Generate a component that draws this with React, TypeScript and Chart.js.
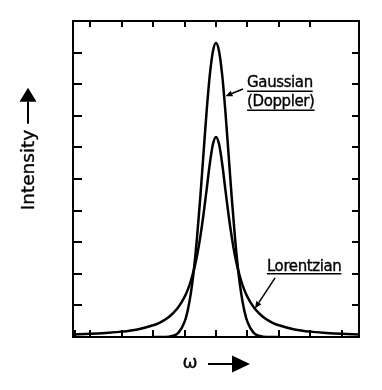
import React, { useEffect, useRef } from "react";
import { Chart, registerables } from "chart.js";

Chart.register(...registerables);

// ---- data ----
const X_MIN = -4.55;
const X_MAX = 4.55;
const Y_MIN = 0;
const Y_MAX = 10;

const gaussX = [-2.0, -1.6, -1.4, -1.2, -1.0, -0.9, -0.8, -0.7, -0.6, -0.5, -0.4, -0.3, -0.2, -0.1, 0, 0.1, 0.2, 0.3, 0.4, 0.5, 0.6, 0.7, 0.8, 0.9, 1.0, 1.2, 1.4, 1.6, 2.0];
const gaussY = [0, 0, 0.03, 0.13, 0.48, 0.84, 1.39, 2.16, 3.19, 4.42, 5.78, 7.12, 8.26, 9.03, 9.3, 9.03, 8.26, 7.12, 5.78, 4.42, 3.19, 2.16, 1.39, 0.84, 0.48, 0.13, 0.03, 0, 0];

const lorX = [-4.55, -4.0, -3.5, -3.0, -2.5, -2.0, -1.8, -1.6, -1.4, -1.2, -1.0, -0.9, -0.8, -0.7, -0.6, -0.5, -0.4, -0.3, -0.2, -0.1, 0, 0.1, 0.2, 0.3, 0.4, 0.5, 0.6, 0.7, 0.8, 0.9, 1.0, 1.2, 1.4, 1.6, 1.8, 2.0, 2.5, 3.0, 3.5, 4.0, 4.55];
const lorY = [0.08, 0.1, 0.13, 0.17, 0.24, 0.37, 0.45, 0.56, 0.72, 0.94, 1.27, 1.49, 1.78, 2.14, 2.59, 3.17, 3.86, 4.65, 5.46, 6.09, 6.33, 6.09, 5.46, 4.65, 3.86, 3.17, 2.59, 2.14, 1.78, 1.49, 1.27, 0.94, 0.72, 0.56, 0.45, 0.37, 0.24, 0.17, 0.13, 0.1, 0.08];

const leftTicks = [1, 2, 3, 4, 5, 6, 7, 8, 9];
const rightTicks = [1, 2, 3, 4, 5, 6, 7, 8, 9];
const topTicks = [-4, -3, -2, -1, 0, 1, 2, 3];
const bottomTicks = [-4.5, -4, -3, -2, -1, 0, 1, 2, 3, 4];

const gaussLabel = ["Gaussian", "(Doppler)"];
const lorLabel = "Lorentzian";
const yTitle = "Intensity";
const xTitle = "\u03c9";

// annotation anchors in data units
const gaussTextPos = { x: 0.99, y: [7.9, 7.3] };
const gaussLeader = { from: { x: 0.86, y: 7.85 }, to: { x: 0.3, y: 7.62 } };
const lorTextPos = { x: 1.62, y: 2.1 };
const lorLeader = { from: { x: 1.88, y: 1.87 }, to: { x: 1.24, y: 0.9 } };

function arrow(ctx: CanvasRenderingContext2D, x1: number, y1: number, x2: number, y2: number, headLen: number, headW: number, lw: number) {
  const ang = Math.atan2(y2 - y1, x2 - x1);
  const bx = x2 - headLen * Math.cos(ang);
  const by = y2 - headLen * Math.sin(ang);
  ctx.beginPath();
  ctx.lineWidth = lw;
  ctx.moveTo(x1, y1);
  ctx.lineTo(bx, by);
  ctx.stroke();
  const px = -Math.sin(ang) * headW / 2;
  const py = Math.cos(ang) * headW / 2;
  ctx.beginPath();
  ctx.moveTo(x2, y2);
  ctx.lineTo(bx + px, by + py);
  ctx.lineTo(bx - px, by - py);
  ctx.closePath();
  ctx.fill();
}

function boldText(ctx: CanvasRenderingContext2D, t: string, x: number, y: number) {
  ctx.fillText(t, x, y);
  ctx.lineWidth = 0.35;
  ctx.strokeText(t, x, y);
}

const decorPlugin = {
  id: "decor",
  afterDraw(chart: any) {
    const ctx: CanvasRenderingContext2D = chart.ctx;
    const { left, right, top, bottom } = chart.chartArea;
    const xs = chart.scales.x;
    const ys = chart.scales.y;
    ctx.save();
    ctx.strokeStyle = "#000";
    ctx.fillStyle = "#000";
    ctx.lineCap = "butt";

    // frame
    ctx.lineWidth = 2;
    ctx.strokeRect(left, top, right - left, bottom - top);

    // inward ticks
    ctx.lineWidth = 2;
    ctx.beginPath();
    leftTicks.forEach((v) => {
      const y = Math.round(ys.getPixelForValue(v));
      ctx.moveTo(left, y);
      ctx.lineTo(left + 9, y);
    });
    rightTicks.forEach((v) => {
      const y = Math.round(ys.getPixelForValue(v));
      ctx.moveTo(right, y);
      ctx.lineTo(right - 7, y);
    });
    topTicks.forEach((v) => {
      const x = Math.round(xs.getPixelForValue(v));
      ctx.moveTo(x, top);
      ctx.lineTo(x, top + 6);
    });
    bottomTicks.forEach((v) => {
      const x = Math.round(xs.getPixelForValue(v));
      ctx.moveTo(x, bottom);
      ctx.lineTo(x, bottom - 7);
    });
    ctx.stroke();

    // labels
    ctx.font = "15px 'DejaVu Sans'";
    (ctx as any).letterSpacing = "-0.4px";
    ctx.textAlign = "left";
    ctx.textBaseline = "alphabetic";
    gaussLabel.forEach((t, i) => {
      const x = xs.getPixelForValue(gaussTextPos.x);
      const y = ys.getPixelForValue(gaussTextPos.y[i]);
      boldText(ctx, t, x, y);
      const w = ctx.measureText(t).width;
      ctx.lineWidth = 1.5;
      ctx.beginPath();
      ctx.moveTo(x, y + 4);
      ctx.lineTo(x + w, y + 4);
      ctx.stroke();
    });
    {
      const x = xs.getPixelForValue(lorTextPos.x);
      const y = ys.getPixelForValue(lorTextPos.y);
      boldText(ctx, lorLabel, x, y);
      const w = ctx.measureText(lorLabel).width;
      ctx.lineWidth = 1.5;
      ctx.beginPath();
      ctx.moveTo(x, y + 3);
      ctx.lineTo(x + w, y + 3);
      ctx.stroke();
    }
    (ctx as any).letterSpacing = "0px";

    // leaders
    [gaussLeader, lorLeader].forEach((l) => {
      arrow(
        ctx,
        xs.getPixelForValue(l.from.x),
        ys.getPixelForValue(l.from.y),
        xs.getPixelForValue(l.to.x),
        ys.getPixelForValue(l.to.y),
        7,
        6,
        1.5
      );
    });

    // y title with arrow
    const yTitleX = left - 44;
    const yTitleCY = (top + bottom) / 2;
    ctx.save();
    ctx.translate(yTitleX, yTitleCY);
    ctx.rotate(-Math.PI / 2);
    ctx.font = "18.5px 'DejaVu Sans'";
    ctx.textAlign = "left";
    ctx.textBaseline = "middle";
    const tw = ctx.measureText(yTitle).width;
    const startX = -tw / 2 + 9;
    boldText(ctx, yTitle, startX, 0);
    arrow(ctx, startX + tw + 6, -1, startX + tw + 42, -1, 14, 17, 2);
    ctx.restore();

    // x title with arrow
    ctx.font = "18px 'DejaVu Sans'";
    ctx.textAlign = "center";
    ctx.textBaseline = "middle";
    const xTitleY = bottom + 27;
    const xTitleX = left + 117;
    boldText(ctx, xTitle, xTitleX, xTitleY - 1);
    arrow(ctx, xTitleX + 18, xTitleY, xTitleX + 60, xTitleY, 18, 17, 2);

    ctx.restore();
  },
};

export default function App() {
  const ref = useRef<HTMLCanvasElement | null>(null);
  useEffect(() => {
    if (!ref.current) return;
    const chart = new Chart(ref.current, {
      type: "line",
      data: {
        datasets: [
          {
            data: gaussX.map((x, i) => ({ x, y: gaussY[i] })),
            borderColor: "#000",
            borderWidth: 2.5,
            pointRadius: 0,
            cubicInterpolationMode: "monotone",
            fill: false,
          },
          {
            data: lorX.map((x, i) => ({ x, y: lorY[i] })),
            borderColor: "#000",
            borderWidth: 2.5,
            pointRadius: 0,
            cubicInterpolationMode: "monotone",
            fill: false,
          },
        ],
      },
      options: {
        responsive: false,
        animation: false,
        devicePixelRatio: 1,
        layout: { padding: { left: 73, right: 23, top: 21, bottom: 53 } },
        scales: {
          x: { type: "linear", min: X_MIN, max: X_MAX, display: false },
          y: { type: "linear", min: Y_MIN, max: Y_MAX, display: false },
        },
        plugins: { legend: { display: false }, tooltip: { enabled: false } },
      },
      plugins: [decorPlugin],
    } as any);
    return () => chart.destroy();
  }, []);
  return (
    <div style={{ position: "fixed", left: 0, top: 0, width: 382, height: 390, background: "#fff" }}>
      <canvas ref={ref} width={382} height={390} style={{ display: "block" }} />
    </div>
  );
}
